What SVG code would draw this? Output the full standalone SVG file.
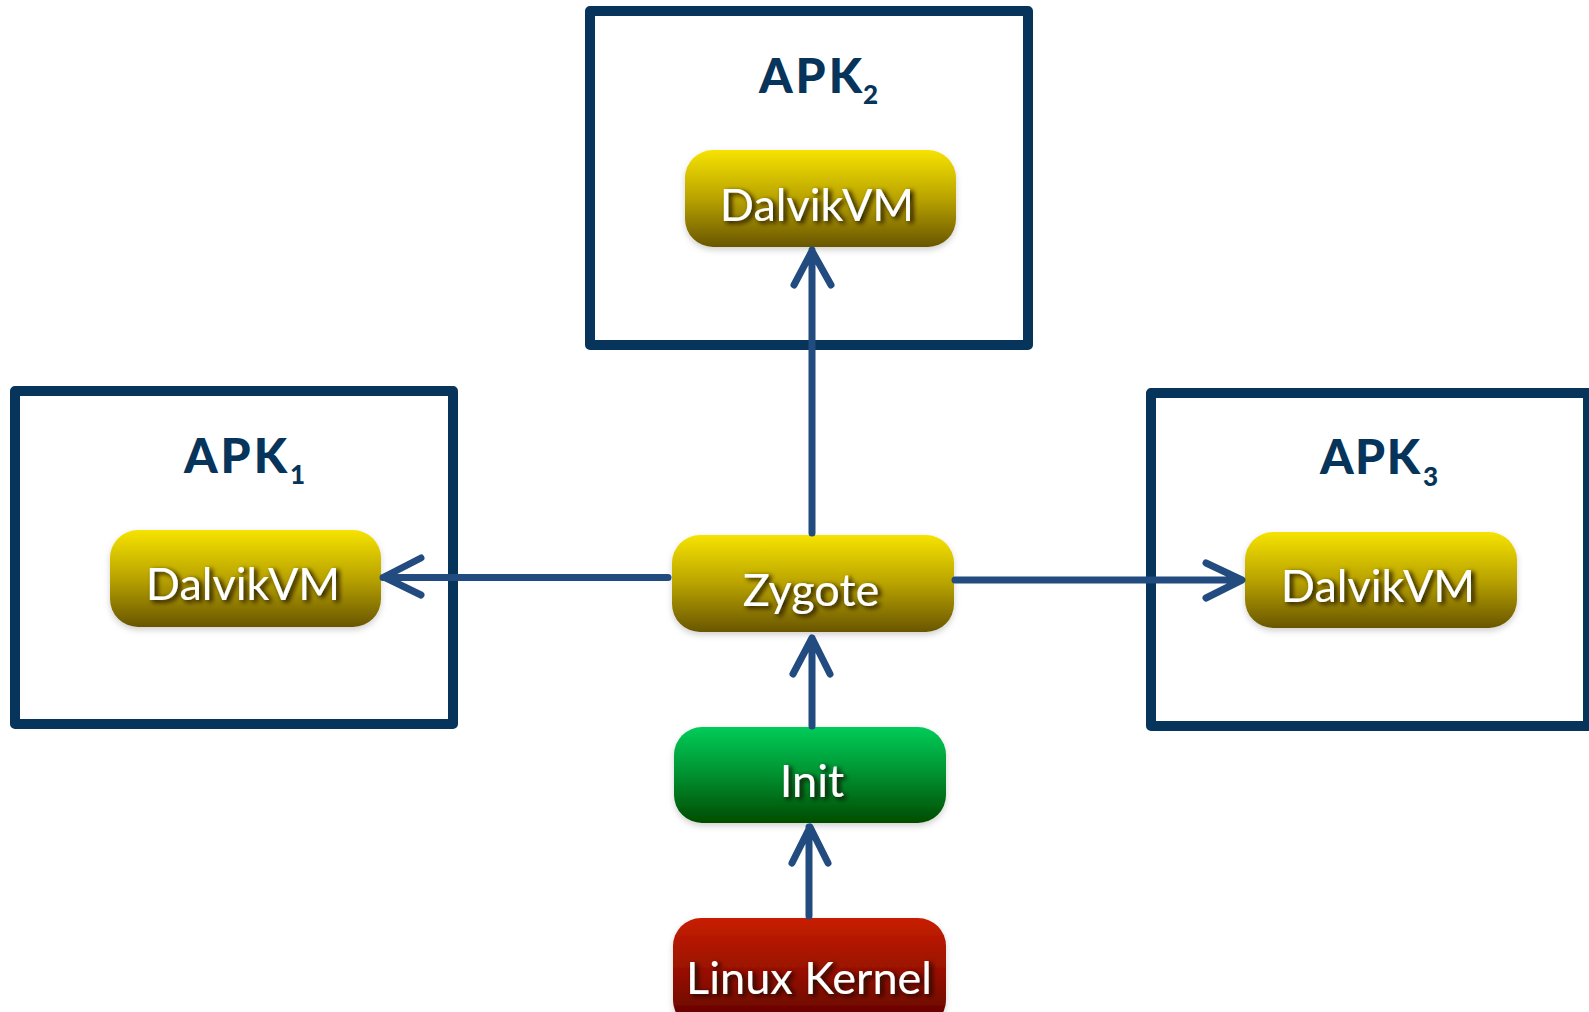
<svg xmlns="http://www.w3.org/2000/svg" width="1589" height="1012" viewBox="0 0 1589 1012">
<style>
.frame{fill:none;stroke:#06345a;stroke-width:10;stroke-linejoin:round}
.apk{font-family:Lato,"Liberation Sans",sans-serif;font-weight:900;fill:#06345a}
.lbl{font-family:Lato,"Liberation Sans",sans-serif;font-size:45px;fill:#fff;text-anchor:middle;filter:url(#ts)}
.conn{fill:none;stroke:#224b80;stroke-width:7;stroke-linecap:round;stroke-linejoin:round}
.pill{filter:url(#bs)}
</style>
<defs>
<linearGradient id="gy" x1="0" y1="0" x2="0" y2="1">
<stop offset="0" stop-color="#f6e300"/>
<stop offset="0.5" stop-color="#b9a300"/>
<stop offset="1" stop-color="#695600"/>
</linearGradient>
<linearGradient id="gg" x1="0" y1="0" x2="0" y2="1">
<stop offset="0" stop-color="#00cc58"/>
<stop offset="0.5" stop-color="#009030"/>
<stop offset="1" stop-color="#004c00"/>
</linearGradient>
<linearGradient id="gr" x1="0" y1="0" x2="0" y2="1">
<stop offset="0" stop-color="#c81e00"/>
<stop offset="0.5" stop-color="#961000"/>
<stop offset="1" stop-color="#5a0000"/>
</linearGradient>
<filter id="ts" x="-10%" y="-30%" width="125%" height="160%">
<feDropShadow dx="3" dy="2" stdDeviation="2.5" flood-color="#140c00" flood-opacity="1"/>
</filter>
<filter id="bs" x="-10%" y="-20%" width="120%" height="150%">
<feDropShadow dx="0" dy="3" stdDeviation="3" flood-color="#000" flood-opacity="0.18"/>
</filter>
</defs>

<g id="apk2">
<rect class="frame" x="590" y="11" width="438" height="334"/>
<text class="apk" x="759" y="93" font-size="48" textLength="103">APK</text>
<text class="apk" x="863" y="104" font-size="26">2</text>
</g>
<g id="apk1">
<rect class="frame" x="15" y="391" width="438" height="333"/>
<text class="apk" x="184" y="473" font-size="48" textLength="103">APK</text>
<text class="apk" x="290" y="484" font-size="26">1</text>
</g>
<g id="apk3">
<rect class="frame" x="1151" y="393" width="437" height="333"/>
<text class="apk" x="1320" y="474" font-size="48" textLength="100">APK</text>
<text class="apk" x="1423" y="486" font-size="26">3</text>
</g>

<g id="dalvik2">
<rect class="pill" x="685" y="150" width="271" height="97" rx="28" fill="url(#gy)"/>
<text class="lbl" x="817" y="221">DalvikVM</text>
</g>
<g id="dalvik1">
<rect class="pill" x="110" y="530" width="271" height="97" rx="28" fill="url(#gy)"/>
<text class="lbl" x="243" y="600">DalvikVM</text>
</g>
<g id="dalvik3">
<rect class="pill" x="1245" y="532" width="272" height="96" rx="28" fill="url(#gy)"/>
<text class="lbl" x="1378" y="602">DalvikVM</text>
</g>
<g id="zygote">
<rect class="pill" x="672" y="535" width="282" height="97" rx="28" fill="url(#gy)"/>
<text class="lbl" x="811" y="606">Zygote</text>
</g>
<g id="init">
<rect class="pill" x="674" y="727" width="272" height="96" rx="28" fill="url(#gg)"/>
<text class="lbl" x="812" y="797">Init</text>
</g>
<g id="kernel">
<rect class="pill" x="673" y="918" width="273" height="110" rx="28" fill="url(#gr)"/>
<text class="lbl" x="809" y="994" font-size="44">Linux Kernel</text>
</g>

<g id="connectors">
<path class="conn" d="M812 533 V250 M794 285 L812 251 L831 285"/>
<path class="conn" d="M668 577.5 H383 M421 558 L384 577 L421 595"/>
<path class="conn" d="M955 580 H1240 M1206 563 L1242 580 L1206 598"/>
<path class="conn" d="M812 726 V638 M793 674 L812 638 L830 674"/>
<path class="conn" d="M809 916 V827 M792 863 L810 827 L828 863"/>
</g>
</svg>
